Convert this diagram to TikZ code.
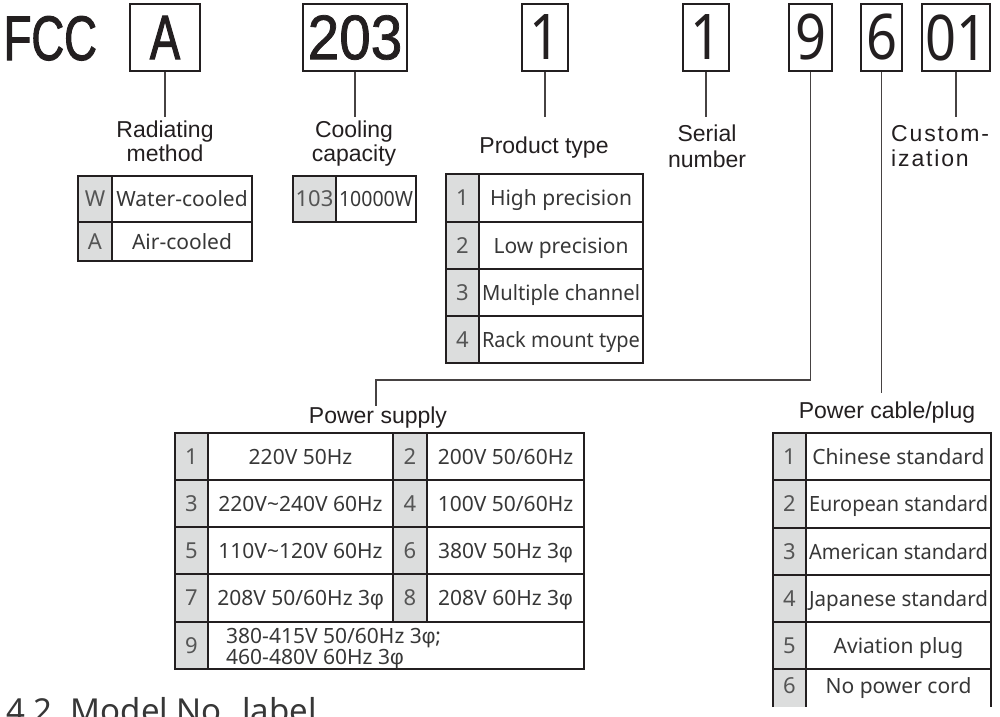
\documentclass[tikz,border=0pt]{standalone}
\usepackage{fontspec}
\usepackage{graphicx}
\setmainfont{Liberation Sans}
\newfontfamily\condf[FakeStretch=0.72,FakeBold=1.6]{Liberation Sans}
\newfontfamily\condn[FakeStretch=0.9,FakeBold=1.2]{Liberation Sans}
\newfontfamily\digf[FakeStretch=0.86]{Noto Sans}
\newfontfamily\cellf{Noto Sans}
\newfontfamily\phif{Liberation Sans}
\newfontfamily\spacedf[LetterSpace=8]{Liberation Sans}
\usetikzlibrary{calc}
\definecolor{ink}{RGB}{35,31,32}
\definecolor{keyg}{RGB}{220,221,221}
\definecolor{txt}{RGB}{55,55,55}
\definecolor{keytxtc}{RGB}{85,85,85}
\definecolor{connc}{RGB}{70,66,66}
\newcommand\ph{{\phif φ}}
\newsavebox\fitbox
\newcommand\fitto[2]{\sbox\fitbox{#2}\ifdim\wd\fitbox>#1\relax\resizebox{#1}{\height}{\usebox\fitbox}\else\usebox\fitbox\fi}
\newcommand\kcell[6]{\path[keycell] (#2,#3) rectangle (#4,#5);
  \pgfmathsetmacro\cw{#4-#2-3}
  \node[keytxt] (#1) at ({(#2+#4)/2},{(#3+#5)/2}) {\fitto{\cw pt}{#6}};}
\newcommand\vcell[6]{\path[valcell] (#2,#3) rectangle (#4,#5);
  \pgfmathsetmacro\cw{#4-#2-6}
  \node[celltxt] (#1) at ({(#2+#4)/2},{(#3+#5)/2}) {\fitto{\cw pt}{#6}};}
\begin{document}
\begin{tikzpicture}[x=1pt,y=-1pt,
  hbox/.style={draw=ink,line width=1.8pt,minimum height=67pt,inner sep=0pt,text=ink},
  conn/.style={draw=connc,line width=1.3pt},
  lbl/.style={font=\fontsize{23}{24}\selectfont,text=ink,inner sep=0pt},
  celltxt/.style={font=\cellf\fontsize{21}{22}\selectfont,text=txt,inner sep=0pt,text height=15pt,text depth=0pt},
  keytxt/.style={font=\cellf\fontsize{22}{22}\selectfont,text=keytxtc,inner sep=0pt,text height=15.7pt,text depth=0pt},
  keycell/.style={fill=keyg,draw=ink,line width=1.5pt},
  valcell/.style={draw=ink,line width=1.5pt}]
\useasboundingbox (0,0) rectangle (1000,716);
\clip (0,0) rectangle (1000,716);

% header
\node[lbl,font=\condf\fontsize{63}{63}\selectfont,anchor=base west] (fcc) at (3.5,60) {FCC};
\node[hbox,minimum width=70pt,font=\condf\fontsize{63}{63}\selectfont] (bA) at (165,37.5) {A};
\node[hbox,minimum width=104pt,font=\condn\fontsize{63}{63}\selectfont] (b203) at (355,37.5) {203};
\node[hbox,minimum width=46pt,font=\digf\fontsize{63}{63}\selectfont] (bP) at (545,37.5) {1};
\node[hbox,minimum width=46pt,font=\digf\fontsize{63}{63}\selectfont] (bS) at (706,37.5) {1};
\node[hbox,minimum width=43pt,font=\digf\fontsize{63}{63}\selectfont] (b9) at (810.5,37.5) {9};
\node[hbox,minimum width=41pt,font=\digf\fontsize{63}{63}\selectfont] (b6) at (881.5,37.5) {6};
\node[hbox,minimum width=68pt,font=\digf\fontsize{63}{63}\selectfont] (b01) at (956,37.5) {01};

% labels
\node[lbl,align=center,anchor=north] (rad) at (165,121) {Radiating\\method};
\node[lbl,align=center,anchor=north] (cool) at (354,121) {Cooling\\capacity};
\node[lbl,anchor=base] (ptype) at (544,153) {Product type};
\node[lbl,font=\fontsize{23}{26}\selectfont,align=center,anchor=north] (serial) at (707,124.5) {Serial\\number};
\node[lbl,font=\spacedf\fontsize{23}{25}\selectfont,align=left,anchor=north west] (cust) at (891,125) {Custom-\\ization};
\node[lbl,anchor=base] (pst) at (378,423) {Power supply};
\node[lbl,anchor=base] (pct) at (887,418) {Power cable/plug};

% connectors
\coordinate (yend) at (0,117);
\coordinate (psturn) at (376,380);
\coordinate (pcend) at (0,393);
\draw[conn] (bA.south) -- (bA.south |- yend);
\draw[conn] (b203.south) -- (b203.south |- yend);
\draw[conn] (bP.south) -- (bP.south |- yend);
\draw[conn] (bS.south) -- (bS.south |- yend);
\draw[conn] (b01.south) -- (b01.south |- yend);
\draw[conn] (b9.south) |- (psturn) -- (psturn |- pst.north);
\draw[conn] (b6.south) -- (b6.south |- pcend);

% radiating method table
\kcell{rk1}{78}{176}{112}{222}{W}
\vcell{rv1}{112}{176}{252}{222}{Water-cooled}
\kcell{rk2}{78}{222}{112}{261}{A}
\vcell{rv2}{112}{222}{252}{261}{Air-cooled}

% cooling capacity table
\kcell{ck1}{293}{176}{336}{222}{103}
\vcell{cv1}{336}{176}{416}{222}{10000W}

% product type table
\kcell{pk1}{446}{174}{479}{222}{1}
\vcell{pv1}{479}{174}{643}{222}{High precision}
\kcell{pk2}{446}{222}{479}{269}{2}
\vcell{pv2}{479}{222}{643}{269}{Low precision}
\kcell{pk3}{446}{269}{479}{316}{3}
\vcell{pv3}{479}{269}{643}{316}{Multiple channel}
\kcell{pk4}{446}{316}{479}{363}{4}
\vcell{pv4}{479}{316}{643}{363}{Rack mount type}

% power supply table
\kcell{sk1}{175}{433}{208}{480}{1}
\vcell{sv1}{208}{433}{393}{480}{220V 50Hz}
\kcell{sk2}{393}{433}{427}{480}{2}
\vcell{sv2}{427}{433}{584}{480}{200V 50/60Hz}
\kcell{sk3}{175}{480}{208}{527}{3}
\vcell{sv3}{208}{480}{393}{527}{220V\char"007E 240V 60Hz}
\kcell{sk4}{393}{480}{427}{527}{4}
\vcell{sv4}{427}{480}{584}{527}{100V 50/60Hz}
\kcell{sk5}{175}{527}{208}{574}{5}
\vcell{sv5}{208}{527}{393}{574}{110V\char"007E 120V 60Hz}
\kcell{sk6}{393}{527}{427}{574}{6}
\vcell{sv6}{427}{527}{584}{574}{380V 50Hz 3\ph}
\kcell{sk7}{175}{574}{208}{622}{7}
\vcell{sv7}{208}{574}{393}{622}{208V 50/60Hz 3\ph}
\kcell{sk8}{393}{574}{427}{622}{8}
\vcell{sv8}{427}{574}{584}{622}{208V 60Hz 3\ph}
\kcell{sk9}{175}{622}{208}{669}{9}
\path[valcell] (208,622) rectangle (584,669);
\node[celltxt,anchor=base west] (sv9a) at (226,643) {380-415V 50/60Hz 3\ph;};
\node[celltxt,anchor=base west] (sv9b) at (226,664) {460-480V 60Hz 3\ph};

% power cable table
\kcell{ck1}{773}{433}{806}{480}{1}
\vcell{cv1}{806}{433}{991}{480}{Chinese standard}
\kcell{ck2}{773}{480}{806}{528}{2}
\vcell{cv2}{806}{480}{991}{528}{European standard}
\kcell{ck3}{773}{528}{806}{575}{3}
\vcell{cv3}{806}{528}{991}{575}{American standard}
\kcell{ck4}{773}{575}{806}{622}{4}
\vcell{cv4}{806}{575}{991}{622}{Japanese standard}
\kcell{ck5}{773}{622}{806}{669}{5}
\vcell{cv5}{806}{622}{991}{669}{Aviation plug}
\fill[keyg] (773,669) rectangle (806,707);
\draw[valcell] (773,707) -- (773,669) -- (991,669) -- (991,707) (806,669) -- (806,707);
\node[keytxt] (ck6) at (789.5,686) {6};
\node[celltxt] (cv6) at (898.5,686) {No power cord};

% bottom heading (cut off at the lower edge, as in the reference)
\node[anchor=base west,font=\cellf\fontsize{33}{33}\selectfont,text=txt,inner sep=0pt] (h42) at (6,722) {4.2\hspace{0.55em}Model No. label};
\end{tikzpicture}
\end{document}
